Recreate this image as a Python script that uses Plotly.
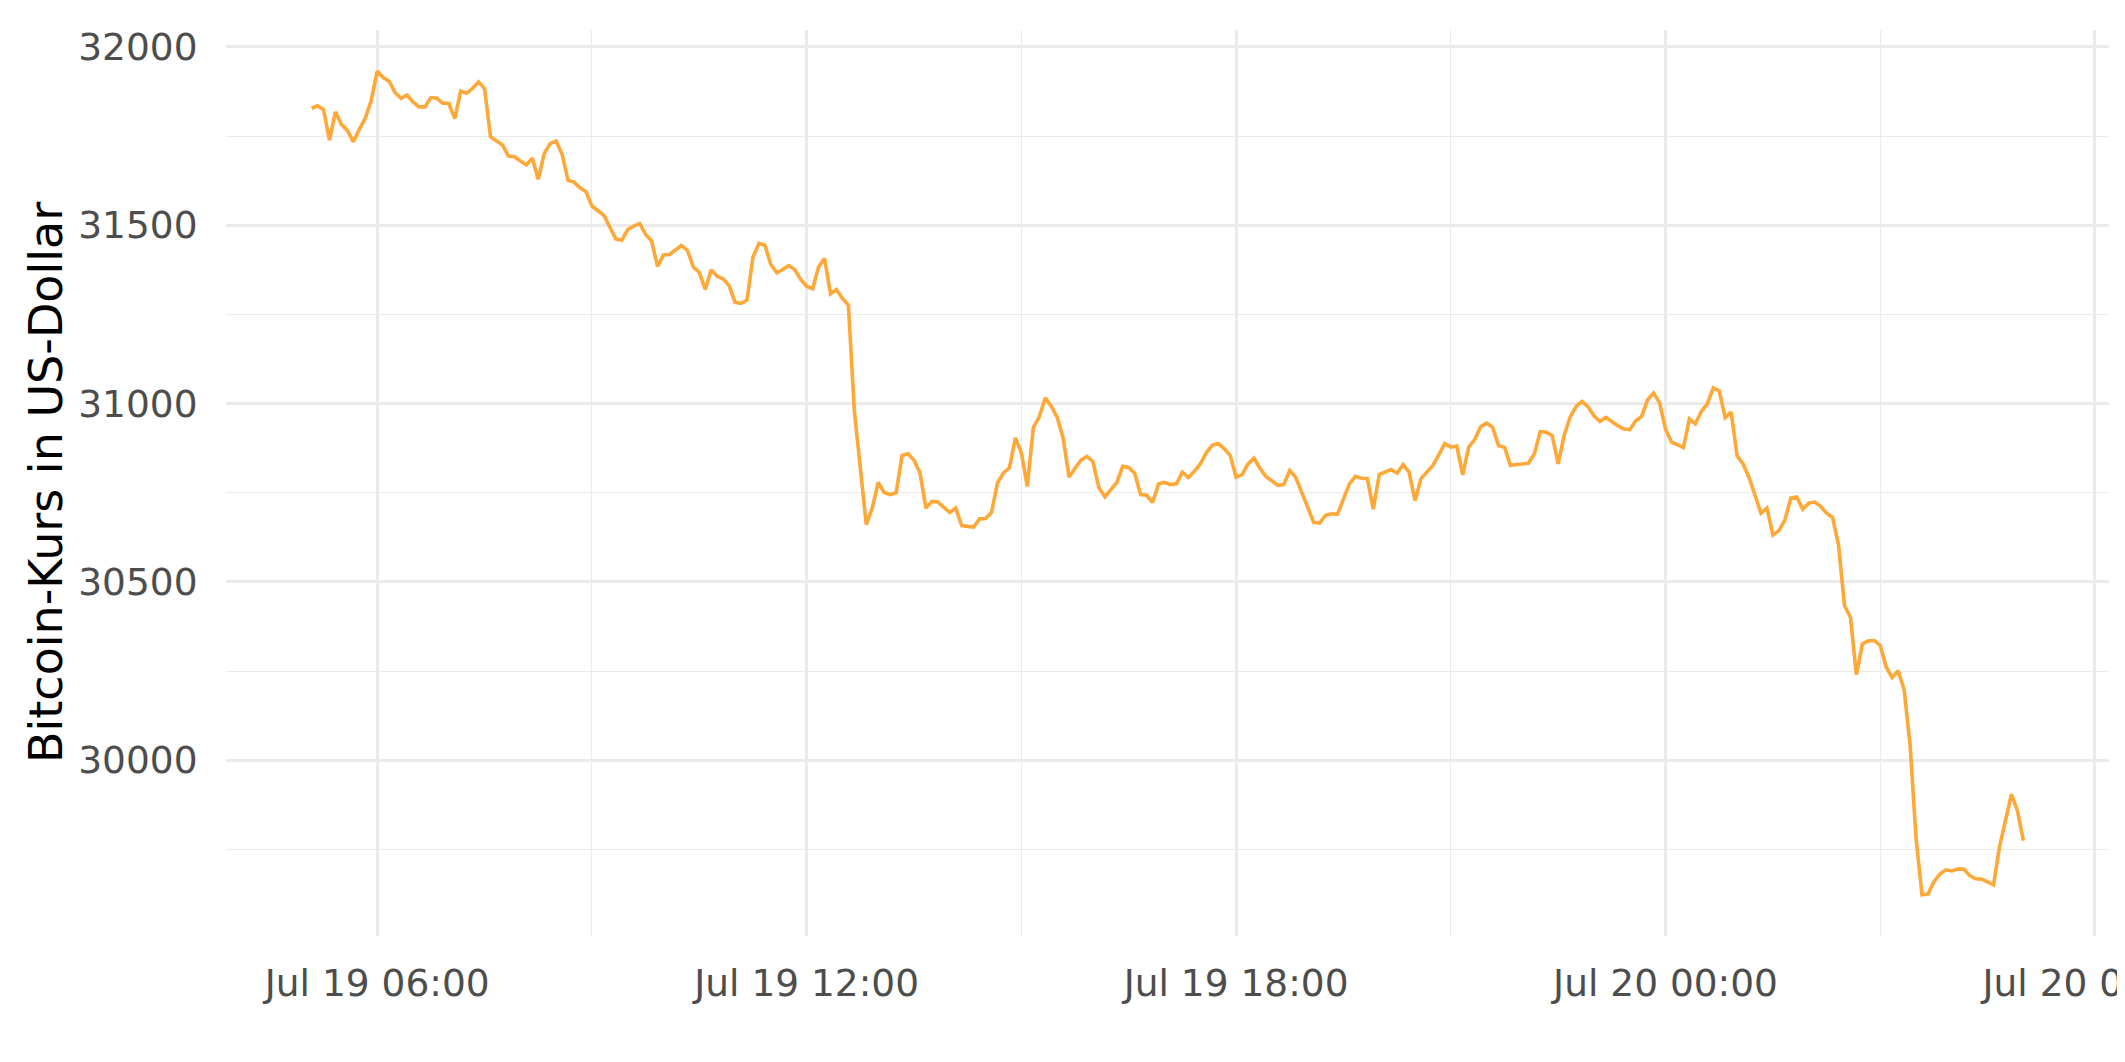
import plotly.graph_objects as go
import pandas as pd

start_time = "2023-07-19 05:05"
step = "5min"

prices = [
    31828, 31835, 31824, 31739, 31818, 31783, 31766, 31734, 31769, 31800,
    31850, 31932, 31914, 31904, 31872, 31856, 31865, 31846, 31832, 31832,
    31858, 31856, 31842, 31842, 31799, 31876, 31870, 31884, 31902, 31883,
    31748, 31736, 31725, 31694, 31692, 31680, 31669, 31688, 31629, 31701,
    31729, 31736, 31699, 31626, 31621, 31605, 31594, 31554, 31540, 31528,
    31495, 31462, 31458, 31488, 31498, 31505, 31474, 31456, 31385, 31417,
    31418, 31431, 31443, 31430, 31383, 31368, 31320, 31375, 31357, 31350,
    31331, 31284, 31281, 31290, 31411, 31449, 31444, 31390, 31367, 31376,
    31387, 31376, 31348, 31329, 31322, 31383, 31407, 31308, 31320, 31295,
    31276, 30979, 30820, 30661, 30707, 30779, 30751, 30745, 30750, 30854,
    30860, 30841, 30806, 30707, 30726, 30724, 30709, 30695, 30707, 30658,
    30656, 30654, 30677, 30678, 30695, 30778, 30806, 30820, 30904, 30862,
    30768, 30932, 30963, 31016, 30993, 30962, 30904, 30794, 30819, 30842,
    30852, 30837, 30764, 30739, 30759, 30779, 30824, 30821, 30805, 30745,
    30743, 30723, 30775, 30779, 30773, 30775, 30808, 30793, 30810, 30831,
    30862, 30883, 30888, 30874, 30855, 30794, 30801, 30831, 30847, 30819,
    30796, 30784, 30771, 30773, 30813, 30793, 30754, 30710, 30667, 30665,
    30687, 30691, 30690, 30735, 30775, 30796, 30791, 30790, 30704, 30801,
    30808, 30815, 30805, 30829, 30808, 30728, 30790, 30808, 30827, 30857,
    30888, 30878, 30881, 30800, 30878, 30899, 30935, 30945, 30934, 30882,
    30878, 30827, 30829, 30831, 30833, 30859, 30922, 30920, 30910, 30831,
    30911, 30962, 30992, 31006, 30991, 30966, 30950, 30961, 30948, 30938,
    30929, 30927, 30952, 30964, 31011, 31030, 31002, 30929, 30892, 30885,
    30877, 30957, 30943, 30978, 30999, 31044, 31036, 30961, 30976, 30854,
    30831, 30793, 30745, 30693, 30707, 30632, 30644, 30673, 30735, 30738,
    30704, 30721, 30724, 30712, 30693, 30681, 30604, 30434, 30401, 30240,
    30326, 30335, 30336, 30322, 30261, 30232, 30251, 30198, 30044, 29782,
    29623, 29625, 29660, 29681, 29693, 29690, 29695, 29695, 29677, 29668,
    29667, 29658, 29651, 29758, 29833, 29905, 29858, 29775,
]

times = pd.date_range(start=start_time, periods=len(prices), freq=step)

y_title = "Bitcoin-Kurs in US-Dollar"
y_ticks = [30000, 30500, 31000, 31500, 32000]
y_minor = [29750, 30250, 30750, 31250, 31750]

# ggplot-like 5% expansion
t0, t1 = times[0], times[-1]
pad_t = (t1 - t0) * 0.05
ymin, ymax = min(prices), max(prices)
pad_y = (ymax - ymin) * 0.05

fig = go.Figure()
fig.add_trace(go.Scatter(
    x=times, y=prices, mode="lines",
    line=dict(color="#FFA737", width=3.6),
    hoverinfo="skip", showlegend=False,
))

grid_major = "#EBEBEB"
tick_font = dict(family="DejaVu Sans", size=37.5, color="#4D4D4D")
fig.update_layout(
    width=2125, height=1062,
    margin=dict(l=218, r=24, t=22, b=134, autoexpand=False),
    paper_bgcolor="white", plot_bgcolor="white",
    font=dict(family="DejaVu Sans", size=37.5, color="#4D4D4D"),
    xaxis=dict(
        range=[t0 - pad_t, t1 + pad_t],
        tickformat="%b %d %H:%M",
        dtick=6 * 3600 * 1000,
        tick0="2023-07-19 00:00",
        showgrid=True, gridcolor=grid_major, gridwidth=2.8,
        zeroline=False, showline=False, automargin=False,
        ticks="outside", ticklen=14, tickcolor="rgba(0,0,0,0)",
        tickfont=tick_font,
        ticklabeloverflow="allow",
        minor=dict(dtick=3 * 3600 * 1000, tick0="2023-07-19 00:00",
                   showgrid=True, gridcolor=grid_major, gridwidth=1.4),
    ),
    yaxis=dict(
        range=[ymin - pad_y, ymax + pad_y],
        tickvals=y_ticks,
        ticktext=[str(v) for v in y_ticks],
        showgrid=True, gridcolor=grid_major, gridwidth=2.8,
        zeroline=False, showline=False, automargin=False,
        ticks="outside", ticklen=20, tickcolor="rgba(0,0,0,0)",
        tickfont=tick_font,
        minor=dict(tickvals=y_minor,
                   showgrid=True, gridcolor=grid_major, gridwidth=1.4),
    ),
    annotations=[dict(
        text=y_title, textangle=-90,
        xref="paper", yref="paper", x=0, y=0.5,
        xanchor="center", yanchor="middle", xshift=-180,
        showarrow=False,
        font=dict(family="DejaVu Sans", size=46, color="black"),
    )],
)

fig.write_html("out.html")
